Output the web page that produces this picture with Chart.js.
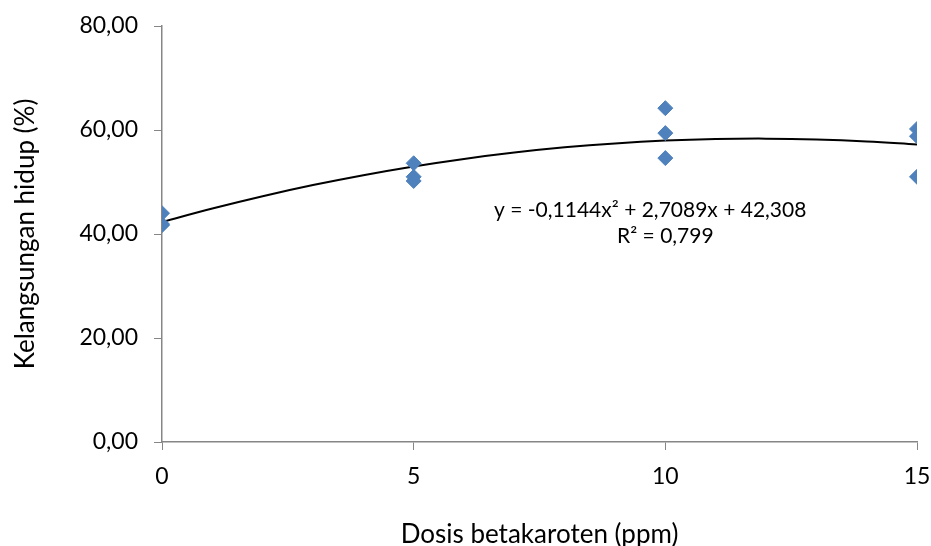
<!DOCTYPE html>
<html>
<head>
<meta charset="utf-8">
<script src="https://cdn.jsdelivr.net/npm/chart.js@4"></script>
<style>
  html, body { margin: 0; padding: 0; background: #fff; }
  #wrap { width: 931px; height: 546px; }
</style>
</head>
<body>
<div id="wrap"><canvas id="chart" width="931" height="546"></canvas></div>
<script>
// data
const doseX = [0, 0, 0, 5, 5, 5, 10, 10, 10, 15, 15, 15];
const survival = [44.0, 41.9, 41.7, 53.6, 51.0, 50.2, 64.2, 59.4, 54.6, 60.2, 58.8, 51.0];

// trend line
const trendX = [0, 1, 2, 3, 4, 5, 6, 7, 8, 9, 10, 11, 12, 13, 14, 15];
const trendY = [42.31, 44.90, 47.27, 49.41, 51.31, 52.99, 54.44, 55.66, 56.66, 57.42, 57.96, 58.26, 58.34, 58.19, 57.81, 57.20];

const yTicks = [0, 20, 40, 60, 80];
const xTicks = [0, 5, 10, 15];
const eqLines = ['y = -0,1144x² + 2,7089x + 42,308', 'R² = 0,799'];

const FONT = 'Lato, sans-serif';
const axisGray = '#868686';

const eqPlugin = {
  id: 'eqLabel',
  afterDatasetsDraw(chart) {
    const ctx = chart.ctx;
    const xs = chart.scales.x, ys = chart.scales.y;
    ctx.save();
    ctx.fillStyle = '#000';
    ctx.font = '21px ' + FONT;
    ctx.textAlign = 'center';
    ctx.textBaseline = 'middle';
    ctx.fillText(eqLines[0], xs.getPixelForValue(9.7), ys.getPixelForValue(44.5));
    ctx.fillText(eqLines[1], xs.getPixelForValue(10.0), ys.getPixelForValue(39.5));
    ctx.restore();
  }
};

new Chart(document.getElementById('chart').getContext('2d'), {
  type: 'scatter',
  data: {
    datasets: [
      {
        label: 'Kelangsungan hidup',
        data: doseX.map((x, i) => ({ x: x, y: survival[i] })),
        pointStyle: 'rectRot',
        pointRadius: 7.5,
        pointHoverRadius: 7.5,
        backgroundColor: '#4F81BD',
        borderColor: '#4F81BD',
        borderWidth: 1,
        order: 1
      },
      {
        label: 'Poly.',
        type: 'line',
        data: trendX.map((x, i) => ({ x: x, y: trendY[i] })),
        borderColor: '#000',
        borderWidth: 2,
        pointRadius: 0,
        tension: 0.4,
        fill: false,
        order: 2
      }
    ]
  },
  options: {
    responsive: false,
    animation: false,
    layout: { padding: { top: 26, right: 14, left: 0, bottom: 0 } },
    plugins: { legend: { display: false }, tooltip: { enabled: false } },
    scales: {
      x: {
        type: 'linear',
        min: 0, max: 15,
        afterBuildTicks: s => { s.ticks = xTicks.map(v => ({ value: v })); },
        afterFit: s => { s.height = 104; s.paddingLeft = 0; s.paddingRight = 0; },
        grid: { drawOnChartArea: false, tickLength: 8, color: axisGray },
        border: { color: axisGray, width: 1.5 },
        ticks: { color: '#000', font: { family: FONT, size: 23 }, padding: 13 },
        title: {
          display: true,
          text: 'Dosis betakaroten (ppm)',
          color: '#000',
          font: { family: FONT, size: 26 },
          padding: { top: 0, bottom: -4 }
        }
      },
      y: {
        min: 0, max: 80,
        afterBuildTicks: s => { s.ticks = yTicks.map(v => ({ value: v })); },
        afterFit: s => { s.width = 162; s.paddingTop = 0; s.paddingBottom = 0; },
        grid: { drawOnChartArea: false, tickLength: 8, color: axisGray },
        border: { color: axisGray, width: 1.5 },
        ticks: {
          color: '#000',
          font: { family: FONT, size: 23 },
          padding: 16,
          callback: v => v.toFixed(2).replace('.', ',')
        },
        title: {
          display: true,
          text: 'Kelangsungan hidup (%)',
          color: '#000',
          font: { family: FONT, size: 26 },
          padding: { top: 10, bottom: 0 }
        }
      }
    }
  },
  plugins: [eqPlugin]
});
</script>
</body>
</html>
